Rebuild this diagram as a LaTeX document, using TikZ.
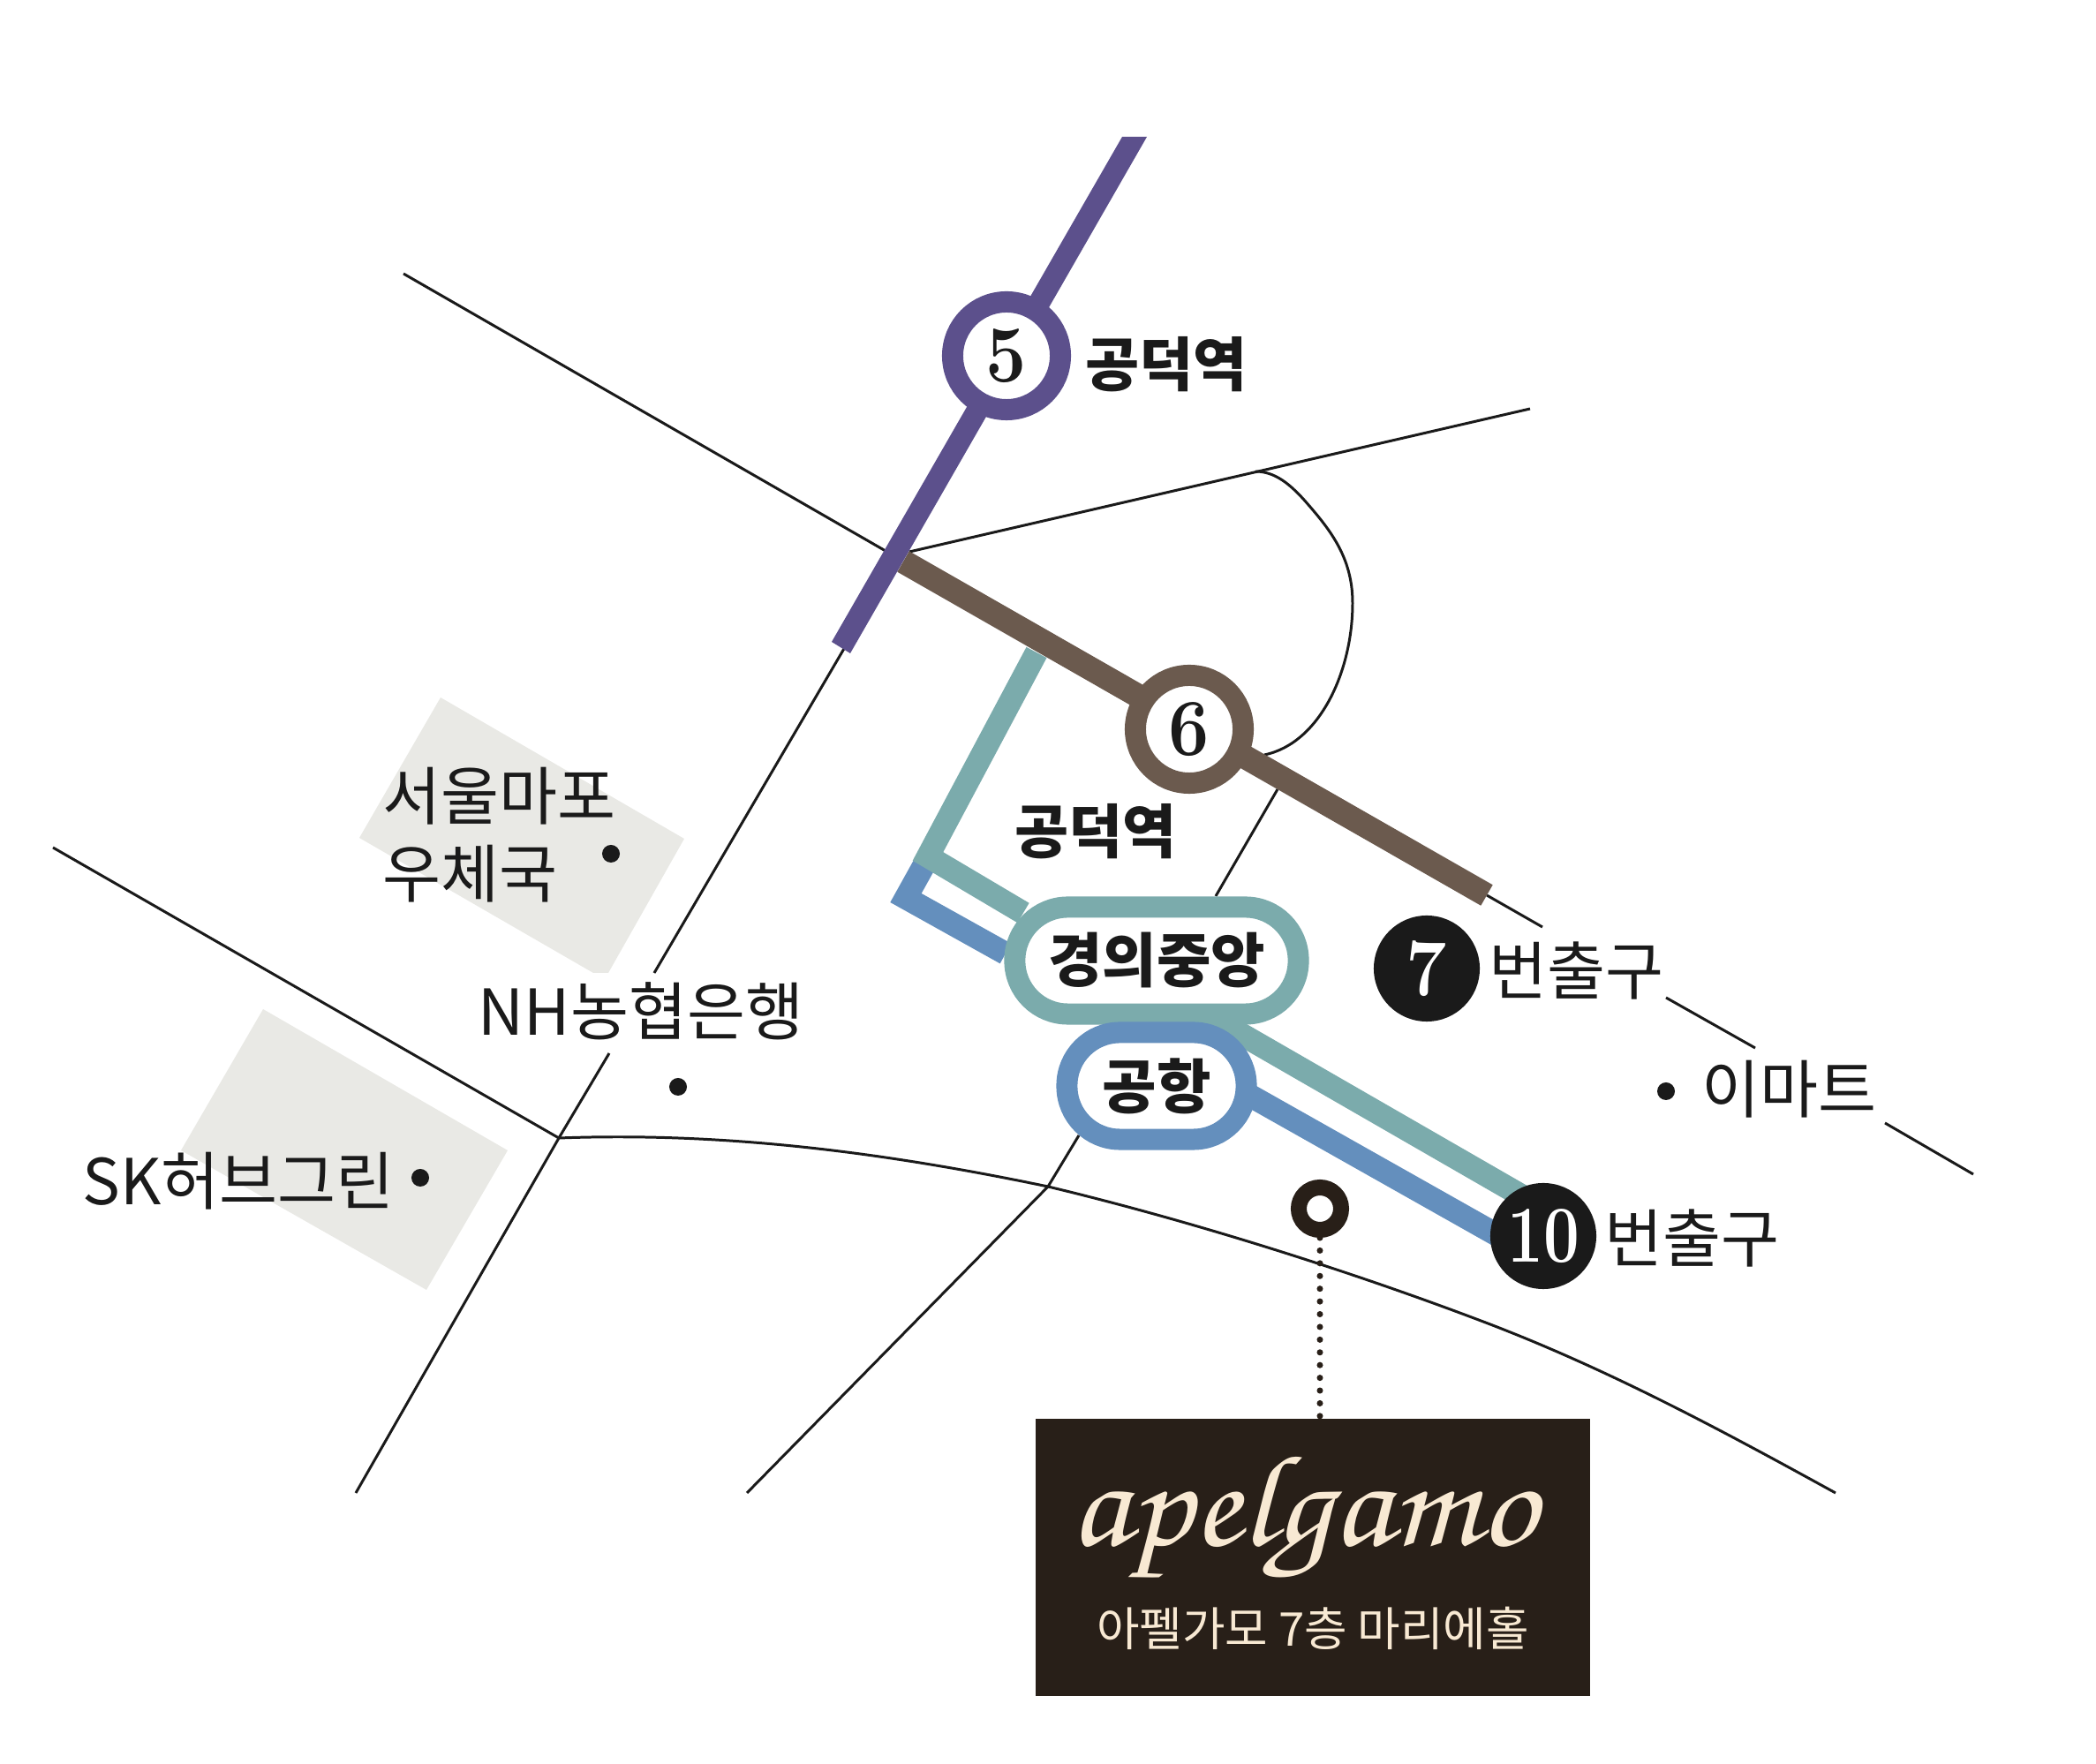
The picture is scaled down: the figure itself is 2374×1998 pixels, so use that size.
\documentclass[tikz,border=0pt]{standalone}
\usepackage{fontspec}
\usepackage{xcolor}
\usepackage{tikz}
\usetikzlibrary{positioning}
\newfontfamily\krfont{Noto Sans CJK KR}
\newfontfamily\logofont{TeX Gyre Chorus}
\definecolor{inkc}{RGB}{26,26,26}
\definecolor{line5c}{RGB}{92,80,140}
\definecolor{line6c}{RGB}{107,90,78}
\definecolor{gyeongc}{RGB}{123,171,172}
\definecolor{airportc}{RGB}{100,143,189}
\definecolor{blockc}{RGB}{233,233,229}
\definecolor{boxc}{RGB}{40,31,24}
\definecolor{creamc}{RGB}{248,233,211}
\newcommand{\stnum}[1]{\scalebox{0.9}[1]{\rmfamily\bfseries\fontsize{26}{26}\selectfont #1}}
\tikzset{
  road/.style={inkc,line width=0.85pt},
  rail/.style={line width=0.26cm},
  place/.style={inkc,inner sep=0pt,font=\krfont\fontsize{20.4}{25}\selectfont},
  stname/.style={inkc,inner sep=0pt,font=\krfont\bfseries\fontsize{18.9}{19}\selectfont},
  ringst/.style={circle,draw=#1,fill=white,line width=0.24cm,minimum size=1.22cm,inner sep=0pt,text=inkc},
  pill/.style={rectangle,rounded corners=0.6cm,draw=#1,fill=white,line width=0.24cm,minimum height=1.21cm,inner sep=0pt,text=inkc,font=\krfont\bfseries\fontsize{19}{19}\selectfont},
  exitst/.style={circle,fill=inkc,minimum size=1.2cm,inner sep=0pt,text=white},
  landmark/.style={circle,fill=inkc,minimum size=0.2cm,inner sep=0pt}
}
\begin{document}
\begin{tikzpicture}[x=0.01cm,y=-0.01cm]
  \useasboundingbox (0,0) rectangle (2374,1998);
  \fill[blockc] (499,790)--(775,950)--(689,1102)--(672,1102)--(407,949)--cycle;
  \fill[blockc] (298,1143)--(575,1303)--(483,1461)--(205,1303)--cycle;

  \coordinate (jct) at (633,1289);
  \coordinate (bend) at (1187,1344);
  \draw[road] (457,310)--(1003,624);
  \draw[road] (1684,1014)--(1747,1050);
  \draw[road] (1887,1130)--(1988,1187);
  \draw[road] (2135,1272)--(2235,1330);
  \draw[road] (1030,625)--(1733,463);
  \draw[road] (1422,534) .. controls (1445,534) and (1462,550) .. (1476,565)
    .. controls (1505,598) and (1532,630) .. (1532,683)
    .. controls (1532,760) and (1495,842) .. (1432,855);
  \draw[road] (957,733)--(741,1102);
  \draw[road] (690,1193)--(jct)--(403,1691);
  \draw[road] (60,960)--(jct);
  \draw[road] (jct) .. controls (820,1282) and (1000,1305) .. (bend)
    .. controls (1350,1383) and (1530,1440) .. (1680,1497)
    .. controls (1820,1550) and (1950,1620) .. (2079,1691);
  \draw[road] (1447,894)--(1377,1015);
  \draw[road] (1222,1286)--(bend)--(846,1691);

  \draw[airportc,rail,line join=miter] (1051,972)--(1026,1017)--(1139,1080);
  \draw[airportc,rail] (1400,1232)--(1735,1421);
  \draw[gyeongc,rail,line join=miter] (1174,739)--(1051,970)--(1159,1034);
  \draw[gyeongc,rail] (1360,1145)--(1735,1361);
  \draw[line6c,line width=0.27cm] (1023,636)--(1684,1014);
  \fill[line5c] (1271,155)--(1299,155)--(963,740)--(942,727)--cycle;

  \node[ringst=line5c] (st5) at (1140,403) {\stnum{5}};
  \node[ringst=line6c] (st6) at (1347,826) {\stnum{6}};
  \node[stname] (name5) at (1321,413) {공덕역};
  \node[stname] (name6) at (1241,942) {공덕역};
  \node[pill=gyeongc,minimum width=3.21cm] (gyeong) at (1310,1088) {\raisebox{-0.03cm}{경의중앙}};
  \node[pill=airportc,minimum width=2.03cm] (airport) at (1310,1230) {\raisebox{-0.03cm}{공항}};
  \node[exitst] (exit7) at (1616,1097) {\stnum{7}};
  \node[exitst] (exit10) at (1748,1400) {\scalebox{0.88}[1]{\stnum{10}}};
  \node[place] (label7) at (1785,1099) {번출구};
  \node[place] (label10) at (1916,1402) {번출구};

  \node[place,align=left,anchor=west] (post) at (433,946) {서울마포\\우체국};
  \node[place] (nh) at (726,1145) {NH농협은행};
  \node[place] (sk) at (270,1338) {SK허브그린};
  \node[place] (emart) at (2026,1234) {이마트};
  \foreach \nm/\px/\py in {dotpost/692/967,dotnh/768/1231,dotsk/476/1334,dotemart/1887/1236}
    \node[landmark] (\nm) at (\px,\py) {};

  \node[rectangle,fill=boxc,minimum width=6.28cm,minimum height=3.13cm,inner sep=0pt] (infobox) at (1487,1764) {};
  \node[circle,draw=boxc,fill=white,line width=0.18cm,minimum size=0.48cm,inner sep=0pt] (pin) at (1495,1369) {};
  \draw[boxc,line width=2pt,line cap=round,dash pattern=on 0pt off 4.1pt] (pin)--(pin |- infobox.north);
  \node[creamc,inner sep=0pt,font=\logofont\fontsize{42}{42}\selectfont] (logo) at (1476,1719) {\scalebox{1.09}[1]{apelgamo}};
  \node[creamc,inner sep=0pt,font=\krfont\fontsize{15}{15}\selectfont] (hall) at (1487,1844) {아펠가모 7층 마리에홀};
\end{tikzpicture}
\end{document}
